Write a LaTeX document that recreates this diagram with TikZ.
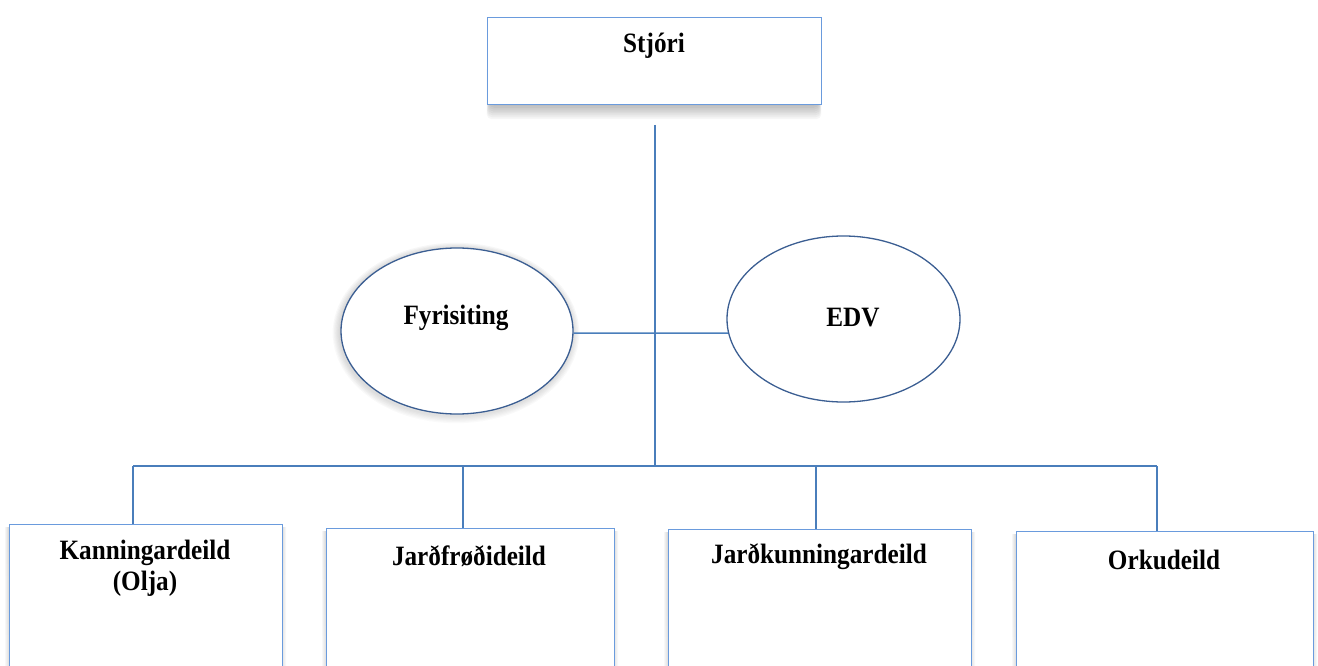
\documentclass[tikz,border=0pt]{standalone}
\usepackage{fontspec}
\setmainfont{Liberation Serif}
\newfontfamily\tallfont[FakeStretch=0.9]{Liberation Serif}
\usetikzlibrary{shapes.geometric}
\definecolor{boxline}{HTML}{6A9BDD}
\definecolor{conn}{HTML}{4A7EBB}
\definecolor{ellline}{HTML}{3B5E92}
\definecolor{shade}{HTML}{4F86D6}
\tikzset{
  orgbox/.style={draw=boxline, line width=1.3pt, fill=white, rectangle, anchor=north west, inner sep=0pt},
  orgell/.style={draw=ellline, line width=1.3pt, fill=white, ellipse, inner sep=0pt},
  conline/.style={draw=conn, line width=1.5pt},
  lbl/.style={font=\tallfont\fontsize{28}{31}\selectfont\bfseries, align=center, text=black, inner sep=0pt}
}
\begin{document}
\begin{tikzpicture}[x=1pt,y=-1pt]
\useasboundingbox (0,0) rectangle (1318,666);
\clip (0,0) rectangle (1318,666);
\fill[white] (0,0) rectangle (1318,666);
% shadows
\foreach \d in {1,...,8}{
  \fill[shade, opacity=0.035, rounded corners=5pt] (490-\d*0.4,60+\d*0.5) rectangle (818+\d*0.4,104+\d*1.9);
}
\foreach \d in {1,...,6}{
  \fill[shade, opacity=0.02] (456,333) ellipse ({116+\d*1.2} and {83+\d*1.2});
}
\foreach \x/\y/\w in {9/524/273, 326/528/288, 668/529/303, 1016/531/297}{
  \foreach \d in {1,...,4}{
    \fill[shade, opacity=0.025] (\x-\d,\y+3) rectangle (\x+\w+\d,700);
  }
}
% top box
\node[orgbox, minimum width=334pt, minimum height=87pt] (stj) at (487,17) {};
\node[lbl] (tstj) at (654,46) {Stjóri};
% ellipses
\node[orgell, minimum width=232pt, minimum height=166pt] (fyr) at (457,331) {};
\node[lbl] (tfyr) at (456,318) {Fyrisiting};
\node[orgell, minimum width=233pt, minimum height=166pt] (edv) at (843.5,319) {};
\node[lbl] (tedv) at (853,318) {EDV};
% bottom boxes
\node[orgbox, minimum width=273pt, minimum height=200pt] (kan) at (9,524) {};
\node[lbl] (tkan) at (145,568) {Kanningardeild\\(Olja)};
\node[orgbox, minimum width=288pt, minimum height=200pt] (jf) at (326,528) {};
\node[lbl] (tjf) at (469,556) {Jarðfrøðideild};
\node[orgbox, minimum width=303pt, minimum height=200pt] (jk) at (668,529) {};
\node[lbl] (tjk) at (819,557) {Jarðkunningardeild};
\node[orgbox, minimum width=297pt, minimum height=200pt] (ork) at (1016,531) {};
\node[lbl] (tork) at (1164,560) {Orkudeild};
% connectors
\coordinate (top) at (655,125);
\coordinate (hub) at (655,466);
\coordinate (b1) at (133,466);
\coordinate (b2) at (463,466);
\coordinate (b3) at (816,466);
\coordinate (b4) at (1157,466);
\draw[conline] (top) -- (hub);
\draw[conline] (b1) -- (b4);
\draw[conline] (b1) -- (b1 |- kan.north);
\draw[conline] (b2) -- (b2 |- jf.north);
\draw[conline] (b3) -- (b3 |- jk.north);
\draw[conline] (b4) -- (b4 |- ork.north);
\draw[conline] (fyr.-1) -- (edv.187);
\end{tikzpicture}
\end{document}
